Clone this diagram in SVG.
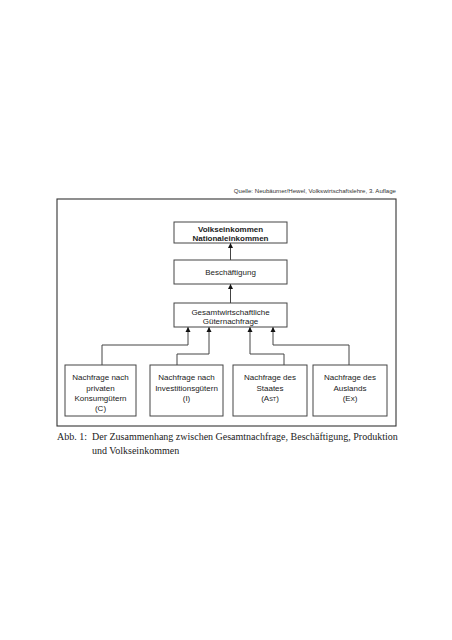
<svg xmlns="http://www.w3.org/2000/svg" width="452" height="640" viewBox="0 0 452 640">
<style>
.box{fill:#fff;stroke:#444;stroke-width:1}
.frame{fill:none;stroke:#333;stroke-width:1.1}
.t{font-family:"Liberation Sans",Arial,sans-serif;font-size:8px;fill:#222;text-anchor:middle}
.b{font-weight:bold}
.c{fill:none;stroke:#444;stroke-width:1}
.cap{font-family:"Liberation Serif","Times New Roman",serif;font-size:10px;fill:#222}
</style>
<defs>
<marker id="ah" markerWidth="6" markerHeight="6" refX="5" refY="3" orient="auto" markerUnits="userSpaceOnUse">
<path d="M0,0.5 L5,3 L0,5.5 Z" fill="#111"/>
</marker>
</defs>
<rect width="452" height="640" fill="#fff"/>
<text x="396" y="193" style="font-family:'Liberation Sans',Arial,sans-serif;font-size:6.1px;fill:#333;text-anchor:end">Quelle: Neubäumer/Hewel, Volkswirtschaftslehre, 3. Auflage</text>
<rect class="frame" x="57" y="199" width="339" height="227"/>
<g id="connectors">
<path class="c" d="M230.5,260 V243" marker-end="url(#ah)"/>
<path class="c" d="M230.5,303 V284" marker-end="url(#ah)"/>
<path class="c" d="M102,365 V345 H188 V327" marker-end="url(#ah)"/>
<path class="c" d="M177,365 V354 H209 V327" marker-end="url(#ah)"/>
<path class="c" d="M284,365 V354 H250 V327" marker-end="url(#ah)"/>
<path class="c" d="M349,365 V345 H273 V327" marker-end="url(#ah)"/>
</g>
<g id="n1"><rect class="box" x="174" y="222" width="113" height="21"/>
<text class="t b" x="230.5" y="231.5">Volkseinkommen</text>
<text class="t b" x="230.5" y="241">Nationaleinkommen</text></g>
<g id="n2"><rect class="box" x="174" y="260" width="113" height="24"/>
<text class="t" x="230.5" y="274.5">Beschäftigung</text></g>
<g id="n3"><rect class="box" x="174" y="303" width="113" height="24"/>
<text class="t" x="230.5" y="314.5">Gesamtwirtschaftliche</text>
<text class="t" x="230.5" y="324">Güternachfrage</text></g>
<g id="n4"><rect class="box" x="65" y="365" width="71" height="51"/>
<text class="t" x="100.5" y="380">Nachfrage nach</text>
<text class="t" x="100.5" y="390.5">privaten</text>
<text class="t" x="100.5" y="400.5">Konsumgütern</text>
<text class="t" x="100.5" y="411">(C)</text></g>
<g id="n5"><rect class="box" x="150" y="365" width="73" height="51"/>
<text class="t" x="186.5" y="380">Nachfrage nach</text>
<text class="t" x="186.5" y="390.5">Investitionsgütern</text>
<text class="t" x="186.5" y="400.5">(I)</text></g>
<g id="n6"><rect class="box" x="233" y="365" width="74" height="51"/>
<text class="t" x="270" y="380">Nachfrage des</text>
<text class="t" x="270" y="390.5">Staates</text>
<text class="t" x="270" y="400.5">(A<tspan font-size="5.5px">ST</tspan>)</text></g>
<g id="n7"><rect class="box" x="313" y="365" width="74" height="51"/>
<text class="t" x="350" y="380">Nachfrage des</text>
<text class="t" x="350" y="390.5">Auslands</text>
<text class="t" x="350" y="400.5">(Ex)</text></g>
<text class="cap" x="57" y="440">Abb. 1:</text>
<text class="cap" x="92" y="440" font-size="9.9px">Der Zusammenhang zwischen Gesamtnachfrage, Beschäftigung, Produktion</text>
<text class="cap" x="92" y="454" font-size="9.9px">und Volkseinkommen</text>
</svg>
